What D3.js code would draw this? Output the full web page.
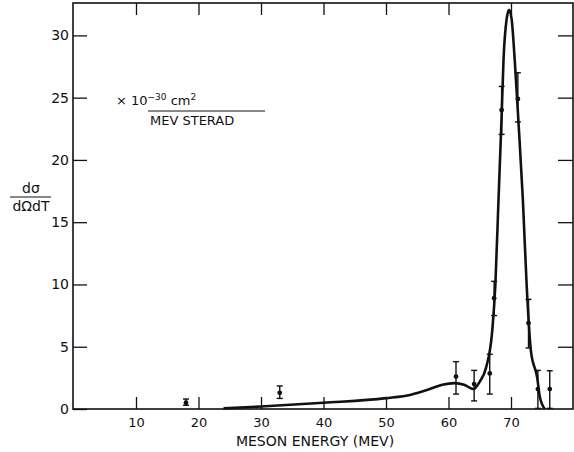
<!DOCTYPE html>
<html>
<head>
    <style>
        body { margin: 0; background: white; }
        svg text { font-family: "DejaVu Sans", sans-serif; fill: #111; }
        .frame { fill: none; stroke: #111; stroke-width: 1.6; }
        .tick-line { stroke: #111; stroke-width: 1.3; }
    </style>
    <script src="https://d3js.org/d3.v7.min.js"></script>
</head>
<body>
    <svg width="574" height="452"></svg>
    <script>
        // curve (meson energy MeV, cross section)
        var curveX = [24, 30, 40, 50, 54, 57, 59, 61, 62.5, 64, 65, 66, 67, 67.5, 68, 68.5, 68.8, 69.3, 69.7, 70.1, 70.6, 71.2, 71.9, 72.5, 73.2, 74.2, 74.6, 75.4];
        var curveY = [0.05, 0.2, 0.5, 0.87, 1.15, 1.6, 1.95, 2.08, 1.95, 1.6, 2.2, 3.3, 6.3, 10, 16.8, 23.5, 28, 31.3, 32.05, 31.3, 28, 23, 16.8, 10, 4.6, 2.5, 1.0, 0];

        // measured points with error bars
        var pointX = [18, 33, 61.2, 64.1, 66.6, 67.3, 68.5, 71.1, 72.8, 74.3, 76.2];
        var pointY = [0.5, 1.3, 2.6, 2.0, 2.86, 8.9, 24.0, 24.9, 6.9, 1.6, 1.6];
        var errLow = [0.3, 0.85, 1.2, 0.65, 1.2, 7.5, 22.05, 23.05, 4.9, 0.05, 0.05];
        var errHigh = [0.8, 1.85, 3.8, 3.1, 4.4, 10.25, 25.9, 27.0, 8.8, 3.1, 3.07];

        var xTicks = [10, 20, 30, 40, 50, 60, 70];
        var yTicks = [0, 5, 10, 15, 20, 25, 30];

        var svg = d3.select("svg"),
            plotL = 73, plotT = 3, plotR = 573, plotB = 409;

        var x = d3.scaleLinear().domain([0, 80]).range([plotL + 0.5, plotR + 0.5]),
            y = d3.scaleLinear().domain([0, 32.6]).range([plotB, plotT]);

        // bottom axis, ticks pointing up
        svg.append("g")
            .attr("transform", "translate(0," + plotB + ")")
            .call(d3.axisBottom(x).tickValues(xTicks).tickSizeInner(-12).tickSizeOuter(0).tickPadding(4))
            .call(function (g) {
                g.select(".domain").remove();
                g.selectAll("line").attr("class", "tick-line");
                g.selectAll("text").attr("font-size", "13px").attr("dy", "1.05em").attr("fill", "#111");
            });

        // left axis, ticks pointing right
        svg.append("g")
            .attr("transform", "translate(" + plotL + ",0)")
            .call(d3.axisLeft(y).tickValues(yTicks).tickSizeInner(-14).tickSizeOuter(0).tickPadding(4))
            .call(function (g) {
                g.select(".domain").remove();
                g.selectAll("line").attr("class", "tick-line");
                g.selectAll("text").attr("font-size", "14px").attr("fill", "#111");
            });

        // top axis ticks
        svg.append("g")
            .attr("transform", "translate(0," + plotT + ")")
            .call(d3.axisTop(x).tickValues(xTicks).tickSizeInner(-12).tickSizeOuter(0).tickFormat(""))
            .call(function (g) {
                g.select(".domain").remove();
                g.selectAll("line").attr("class", "tick-line");
            });

        // right axis ticks
        svg.append("g")
            .attr("transform", "translate(" + plotR + ",0)")
            .call(d3.axisRight(y).tickValues(yTicks.slice(1)).tickSizeInner(-15).tickSizeOuter(0).tickFormat(""))
            .call(function (g) {
                g.select(".domain").remove();
                g.selectAll("line").attr("class", "tick-line");
            });

        svg.append("rect")
            .attr("class", "frame")
            .attr("x", plotL)
            .attr("y", plotT)
            .attr("width", plotR - plotL)
            .attr("height", plotB - plotT);

        // fitted curve
        var line = d3.line()
            .x(function (d) { return x(d[0]); })
            .y(function (d) { return y(d[1]); })
            .curve(d3.curveMonotoneX);

        svg.append("path")
            .datum(d3.zip(curveX, curveY))
            .attr("d", line)
            .attr("fill", "none")
            .attr("stroke", "#111")
            .attr("stroke-width", 2.6)
            .attr("stroke-linejoin", "round");

        // error bars
        var pts = svg.append("g").selectAll("g")
            .data(d3.range(pointX.length))
            .enter().append("g");

        pts.append("line")
            .attr("x1", function (i) { return x(pointX[i]); })
            .attr("x2", function (i) { return x(pointX[i]); })
            .attr("y1", function (i) { return y(errLow[i]); })
            .attr("y2", function (i) { return y(errHigh[i]); })
            .attr("stroke", "#111").attr("stroke-width", 1.4);

        [errLow, errHigh].forEach(function (arr) {
            pts.append("line")
                .attr("x1", function (i) { return x(pointX[i]) - 3; })
                .attr("x2", function (i) { return x(pointX[i]) + 3; })
                .attr("y1", function (i) { return y(arr[i]); })
                .attr("y2", function (i) { return y(arr[i]); })
                .attr("stroke", "#111").attr("stroke-width", 1.4);
        });

        pts.append("circle")
            .attr("cx", function (i) { return x(pointX[i]); })
            .attr("cy", function (i) { return y(pointY[i]); })
            .attr("r", 2.4)
            .attr("fill", "#111");

        // axis title
        svg.append("text")
            .attr("x", 315).attr("y", 446)
            .attr("text-anchor", "middle")
            .attr("font-size", "14px")
            .text("MESON ENERGY (MEV)");

        // y label as a fraction
        svg.append("text")
            .attr("x", 31).attr("y", 193)
            .attr("text-anchor", "middle")
            .attr("font-size", "14px")
            .text("dσ");
        svg.append("line")
            .attr("x1", 10).attr("x2", 51)
            .attr("y1", 197).attr("y2", 197)
            .attr("stroke", "#111").attr("stroke-width", 1);
        svg.append("text")
            .attr("x", 31).attr("y", 211)
            .attr("text-anchor", "middle")
            .attr("font-size", "14px")
            .text("dΩdT");

        // units note
        var note = svg.append("text")
            .attr("x", 116).attr("y", 105)
            .attr("font-size", "13px");
        note.append("tspan").text("× 10");
        note.append("tspan").attr("dy", -5).attr("font-size", "9px").text("−30");
        note.append("tspan").attr("dy", 5).text(" cm");
        note.append("tspan").attr("dy", -5).attr("font-size", "9px").text("2");

        svg.append("line")
            .attr("x1", 148).attr("x2", 265)
            .attr("y1", 111).attr("y2", 111)
            .attr("stroke", "#111").attr("stroke-width", 1);

        svg.append("text")
            .attr("x", 150).attr("y", 125)
            .attr("font-size", "13px")
            .text("MEV STERAD");
    </script>
</body>
</html>
